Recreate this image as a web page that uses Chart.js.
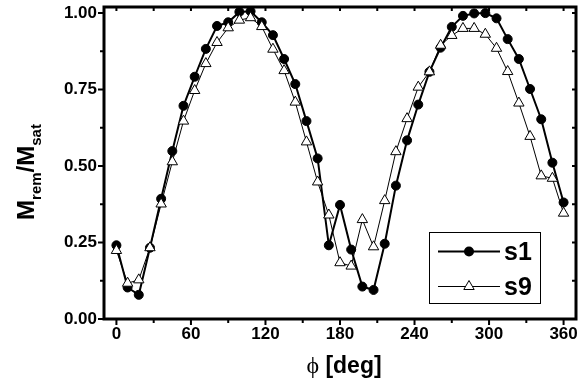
<!DOCTYPE html>
<html>
<head>
<meta charset="utf-8">
<script src="https://cdn.jsdelivr.net/npm/chart.js"></script>
<style>
  html, body { margin: 0; padding: 0; background: #fff; }
  #wrap { width: 585px; height: 381px; }
</style>
</head>
<body>
<div id="wrap"><canvas id="myChart" width="585" height="381"></canvas></div>
<script>
// angle in degrees, one sample every 9 deg
const angles = [0, 9, 18, 27, 36, 45, 54, 63, 72, 81, 90, 99, 108, 117, 126, 135, 144, 153, 162, 171,
  180, 189, 198, 207, 216, 225, 234, 243, 252, 261, 270, 279, 288, 297, 306, 315, 324, 333, 342, 351, 360];

const s1 = [0.241, 0.103, 0.079, 0.233, 0.393, 0.549, 0.697, 0.792, 0.883, 0.958, 0.970, 1.004, 1.006,
  0.970, 0.928, 0.850, 0.768, 0.647, 0.525, 0.241, 0.373, 0.227, 0.106, 0.095, 0.246, 0.436, 0.584,
  0.701, 0.808, 0.887, 0.955, 0.991, 0.999, 1.000, 0.983, 0.915, 0.850, 0.752, 0.653, 0.511, 0.381];

const s9 = [0.224, 0.117, 0.128, 0.233, 0.376, 0.514, 0.647, 0.747, 0.835, 0.904, 0.952, 0.977, 0.985,
  0.956, 0.882, 0.812, 0.709, 0.579, 0.448, 0.340, 0.184, 0.173, 0.325, 0.236, 0.387, 0.547, 0.655,
  0.758, 0.808, 0.895, 0.927, 0.950, 0.950, 0.931, 0.885, 0.809, 0.706, 0.597, 0.468, 0.460, 0.346];

const xTicks = [0, 60, 120, 180, 240, 300, 360];
const xMinor = [30, 90, 150, 210, 270, 330];
const yTicks = [0, 0.25, 0.5, 0.75, 1.0];
const yMinor = [0.125, 0.375, 0.625, 0.875];

const FONT = '"Liberation Sans", Arial, sans-serif';

// frame, ticks, axis titles and legend box
const decor = {
  id: 'decor',
  afterDraw(chart) {
    const ctx = chart.ctx;
    const a = chart.chartArea;
    const xs = chart.scales.x, ys = chart.scales.y;
    ctx.save();
    ctx.strokeStyle = '#000';
    ctx.fillStyle = '#000';

    // ticks
    ctx.lineWidth = 2;
    ctx.beginPath();
    xTicks.concat(xMinor).forEach(v => {
      const px = xs.getPixelForValue(v);
      const len = xTicks.includes(v) ? 6 : 4;
      ctx.moveTo(px, a.bottom); ctx.lineTo(px, a.bottom + len);
      ctx.moveTo(px, a.top); ctx.lineTo(px, a.top + 4);
    });
    yTicks.concat(yMinor).forEach(v => {
      const py = ys.getPixelForValue(v);
      const len = yTicks.includes(v) ? 6 : 4;
      ctx.moveTo(a.left, py); ctx.lineTo(a.left - len, py);
      ctx.moveTo(a.right, py); ctx.lineTo(a.right - 4, py);
    });
    ctx.stroke();

    // frame
    ctx.lineWidth = 3;
    ctx.strokeRect(a.left, a.top, a.right - a.left, a.bottom - a.top);

    // x title
    ctx.textBaseline = 'alphabetic';
    ctx.textAlign = 'left';
    const phiFont = '24px "Liberation Serif", "DejaVu Serif", serif';
    ctx.font = phiFont;
    const phi = '\u03D5';
    const wPhi = ctx.measureText(phi).width;
    ctx.font = 'bold 23px ' + FONT;
    const rest = ' [deg]';
    const wRest = ctx.measureText(rest).width;
    let x0 = (a.left + a.right) / 2 - (wPhi + wRest) / 2 + 4;
    ctx.font = phiFont;
    ctx.fillText(phi, x0, 373);
    ctx.font = 'bold 23px ' + FONT;
    ctx.fillText(rest, x0 + wPhi, 373);

    // y title with subscripts
    const parts = [['M', 24, 0], ['rem', 15, 7], ['/M', 24, 0], ['sat', 15, 7]];
    let total = 0;
    parts.forEach(p => { ctx.font = 'bold ' + p[1] + 'px ' + FONT; p.push(ctx.measureText(p[0]).width); total += p[3]; });
    ctx.translate(34, 172);
    ctx.rotate(-Math.PI / 2);
    let cx = -total / 2;
    parts.forEach(p => {
      ctx.font = 'bold ' + p[1] + 'px ' + FONT;
      ctx.fillText(p[0], cx, p[2]);
      cx += p[3];
    });
    ctx.setTransform(1, 0, 0, 1, 0, 0);

    // legend
    ctx.lineWidth = 1;
    ctx.strokeRect(429.5, 232.5, 111, 71);
    const rows = [
      { label: 's1', y: 251.5, lw: 2 },
      { label: 's9', y: 286.5, lw: 1 }
    ];
    rows.forEach((r, i) => {
      ctx.lineWidth = r.lw;
      ctx.beginPath();
      ctx.moveTo(438, r.y); ctx.lineTo(500, r.y);
      ctx.stroke();
      if (i === 0) {
        ctx.beginPath();
        ctx.arc(469, r.y, 5, 0, Math.PI * 2);
        ctx.fill();
      } else {
        const rr = 6;
        ctx.beginPath();
        ctx.moveTo(469, r.y - rr);
        ctx.lineTo(469 + rr * Math.sin(2 * Math.PI / 3), r.y + rr / 2);
        ctx.lineTo(469 - rr * Math.sin(2 * Math.PI / 3), r.y + rr / 2);
        ctx.closePath();
        ctx.fillStyle = '#fff';
        ctx.fill();
        ctx.lineWidth = 1;
        ctx.stroke();
        ctx.fillStyle = '#000';
      }
      ctx.font = 'bold 25px ' + FONT;
      ctx.fillText(r.label, 504, r.y + 8.5);
    });
    ctx.restore();
  }
};

const ctx = document.getElementById('myChart').getContext('2d');
const myChart = new Chart(ctx, {
  type: 'scatter',
  data: {
    datasets: [{
      label: 's1',
      data: angles.map((a, i) => ({ x: a, y: s1[i] })),
      showLine: true,
      borderColor: '#000',
      borderWidth: 2,
      pointStyle: 'circle',
      pointRadius: 4.5,
      pointBorderWidth: 1,
      pointBackgroundColor: '#000',
      pointBorderColor: '#000',
      clip: false,
      order: 2
    }, {
      label: 's9',
      data: angles.map((a, i) => ({ x: a, y: s9[i] })),
      showLine: true,
      borderColor: '#000',
      borderWidth: 1,
      pointStyle: 'triangle',
      pointRadius: 6,
      pointBorderWidth: 1,
      pointBackgroundColor: '#fff',
      pointBorderColor: '#000',
      clip: false,
      order: 1
    }]
  },
  options: {
    responsive: false,
    animation: false,
    layout: { padding: { top: 6, right: 9, left: 0, bottom: 0 } },
    plugins: { legend: { display: false }, tooltip: { enabled: false } },
    scales: {
      x: {
        type: 'linear',
        min: -10,
        max: 370,
        afterBuildTicks: s => { s.ticks = xTicks.map(v => ({ value: v })); },
        afterFit: s => { s.height = 62; s.paddingLeft = 0; s.paddingRight = 0; },
        grid: { display: false, drawTicks: false },
        border: { display: false },
        ticks: {
          color: '#000',
          padding: 5,
          maxRotation: 0,
          autoSkip: false,
          font: { family: FONT, size: 17, weight: 'bold' }
        }
      },
      y: {
        min: 0,
        max: 1.02,
        afterBuildTicks: s => { s.ticks = yTicks.map(v => ({ value: v })); },
        afterFit: s => { s.width = 104; s.paddingTop = 0; s.paddingBottom = 0; },
        grid: { display: false, drawTicks: false },
        border: { display: false },
        ticks: {
          color: '#000',
          padding: 7,
          callback: v => Number(v).toFixed(2),
          font: { family: FONT, size: 17, weight: 'bold' }
        }
      }
    }
  },
  plugins: [decor]
});
</script>
</body>
</html>
